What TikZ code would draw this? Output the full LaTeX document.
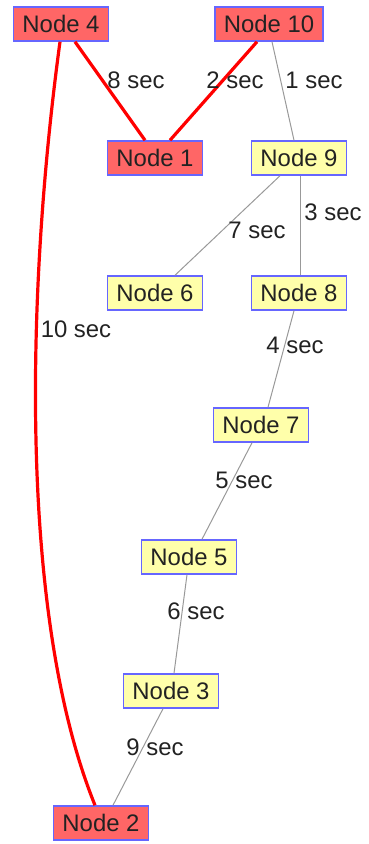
\documentclass[tikz,border=0pt]{standalone}
\usepackage{fontspec}
\setmainfont{Liberation Sans}
\usetikzlibrary{calc}
\definecolor{nodered}{HTML}{FF6666}
\definecolor{nodeyellow}{HTML}{FFFFAA}
\definecolor{nodeborder}{HTML}{6666FF}
\definecolor{edgegray}{HTML}{999999}
\definecolor{textdark}{HTML}{222222}
\begin{document}
\begin{tikzpicture}[x=1bp,y=-1bp,
  box/.style={draw=nodeborder, line width=1.5bp, minimum height=34bp,
    inner xsep=9bp, inner ysep=0pt, font=\fontsize{24}{24}\selectfont,
    text=textdark},
  hot/.style={box, fill=nodered},
  cold/.style={box, fill=nodeyellow},
  hotedge/.style={draw=red, line width=3.2bp},
  coldedge/.style={draw=edgegray, line width=1bp},
  lbl/.style={font=\fontsize{24}{24}\selectfont, text=textdark, inner sep=0pt}]
\useasboundingbox (0,0) rectangle (368,844);

% nodes
\node[hot]  (n4)  at (61,24)   {Node 4};
\node[hot]  (n10) at (269,24)  {Node 10};
\node[hot]  (n1)  at (155,158) {Node 1};
\node[cold] (n9)  at (299,158) {Node 9};
\node[cold] (n6)  at (155,293) {Node 6};
\node[cold] (n8)  at (299,293) {Node 8};
\node[cold] (n7)  at (261,425) {Node 7};
\node[cold] (n5)  at (189,557) {Node 5};
\node[cold] (n3)  at (171,691) {Node 3};
\node[hot]  (n2)  at (101,823) {Node 2};

% connectors
\draw[hotedge] ($(n4.south)+(14,0)$) -- ($(n1.north)+(-10,0)$);
\draw[hotedge] ($(n10.south)+(-12,0)$) -- ($(n1.north)+(15,0)$);
\draw[hotedge] ($(n4.south)+(-1,0)$) .. controls (25,300) and (20,620) .. ($(n2.north)+(-6,0)$);
\draw[coldedge] ($(n10.south)+(3,0)$) -- ($(n9.north)+(-5,0)$);
\draw[coldedge] ($(n9.south)+(-19,0)$) -- ($(n6.north)+(20,0)$);
\draw[coldedge] ($(n9.south)+(1,0)$) -- ($(n8.north)+(1,0)$);
\draw[coldedge] ($(n8.south)+(-5,0)$) -- ($(n7.north)+(7,0)$);
\draw[coldedge] ($(n7.south)+(-9,0)$) -- ($(n5.north)+(13,0)$);
\draw[coldedge] ($(n5.south)+(-2,0)$) -- ($(n3.north)+(3,0)$);
\draw[coldedge] ($(n3.south)+(-8,0)$) -- ($(n2.north)+(12,0)$);

% edge labels
\node[lbl] (l8)  at (136,80)  {8 sec};
\node[lbl] (l2)  at (235,80)  {2 sec};
\node[lbl] (l1)  at (314,80)  {1 sec};
\node[lbl] (l7)  at (257,230) {7 sec};
\node[lbl] (l3)  at (333,212) {3 sec};
\node[lbl] (l4)  at (295,345) {4 sec};
\node[lbl] (l10) at (76,329)  {10 sec};
\node[lbl] (l5)  at (244,480) {5 sec};
\node[lbl] (l6)  at (196,611) {6 sec};
\node[lbl] (l9)  at (155,747) {9 sec};
\end{tikzpicture}
\end{document}
